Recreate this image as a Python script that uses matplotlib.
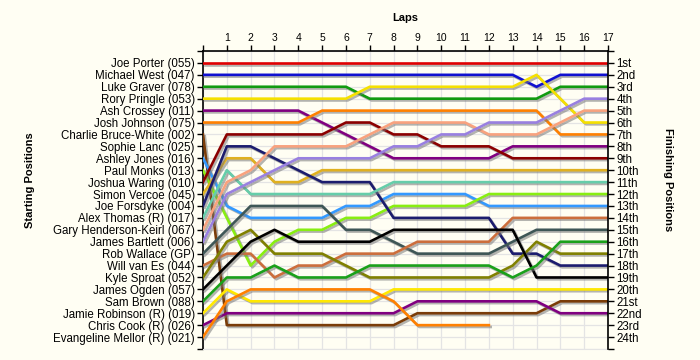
import matplotlib
matplotlib.use("Agg")
import matplotlib.pyplot as plt
import matplotlib.patheffects as pe

plt.rcParams["font.family"] = ["Liberation Sans", "DejaVu Sans"]

# starting grid, in order
drivers = [
    "Joe Porter (055)", "Michael West (047)", "Luke Graver (078)", "Rory Pringle (053)",
    "Ash Crossey (011)", "Josh Johnson (075)", "Charlie Bruce-White (002)", "Sophie Lanc (025)",
    "Ashley Jones (016)", "Paul Monks (013)", "Joshua Waring (010)", "Simon Vercoe (045)",
    "Joe Forsdyke (004)", "Alex Thomas (R) (017)", "Gary Henderson-Keirl (067)", "James Bartlett (006)",
    "Rob Wallace (GP)", "Will van Es (044)", "Kyle Sproat (052)", "James Ogden (057)",
    "Sam Brown (088)", "Jamie Robinson (R) (019)", "Chris Cook (R) (026)", "Evangeline Mellor (R) (021)",
]
finish_labels = ["1st", "2nd", "3rd", "4th", "5th", "6th", "7th", "8th", "9th", "10th", "11th", "12th",
                 "13th", "14th", "15th", "16th", "17th", "18th", "19th", "20th", "21st", "22nd", "23rd", "24th"]
lap_labels = ["", "1", "2", "3", "4", "5", "6", "7", "8", "9", "10", "11", "12", "13", "14", "15", "16", "17"]

# position at each lap (lap 0 = grid)
porter = [1, 1, 1, 1, 1, 1, 1, 1, 1, 1, 1, 1, 1, 1, 1, 1, 1, 1]
west = [2, 2, 2, 2, 2, 2, 2, 2, 2, 2, 2, 2, 2, 2, 3, 2, 2, 2]
graver = [3, 3, 3, 3, 3, 3, 3, 4, 4, 4, 4, 4, 4, 4, 4, 3, 3, 3]
pringle = [4, 4, 4, 4, 4, 4, 4, 3, 3, 3, 3, 3, 3, 3, 2, 4, 6, 6]
crossey = [5, 5, 5, 5, 5, 6, 7, 8, 9, 9, 9, 9, 9, 8, 8, 8, 8, 8]
johnson = [6, 6, 6, 6, 6, 5, 5, 5, 5, 5, 5, 5, 5, 5, 5, 7, 7, 7]
bruce_white = [7, 23, 23, 23, 23, 23, 23, 23, 23, 22, 22, 22, 22, 22, 22, 21, 21, 21]
lanc = [8]
jones = [9, 13, 14, 14, 14, 14, 13, 13, 12, 12, 12, 12, 13, 13, 13, 13, 13, 13]
monks = [10, 14, 18, 16, 15, 15, 14, 14, 13, 13, 13, 13, 12, 12, 12, 12, 12, 12]
waring = [11, 7, 7, 7, 7, 7, 6, 6, 7, 7, 8, 8, 8, 9, 9, 9, 9, 9]
vercoe = [12, 9, 9, 11, 11, 10, 10, 10, 10, 10, 10, 10, 10, 10, 10, 10, 10, 10]
forsdyke = [13, 8, 8, 9, 10, 11, 11, 11, 14, 14, 14, 14, 14, 17, 17, 18, 18, 18]
thomas = [14, 10, 12, 12, 12, 12, 12, 12, 11, 11, 11, 11, 11, 11, 11, 11, 11, 11]
henderson_keirl = [15, 11, 10, 8, 8, 8, 8, 7, 6, 6, 6, 6, 7, 7, 7, 6, 5, 5]
bartlett = [16, 12, 11, 10, 9, 9, 9, 9, 8, 8, 7, 7, 6, 6, 6, 5, 4, 4]
wallace = [17, 15, 13, 13, 13, 13, 15, 15, 16, 17, 17, 17, 17, 16, 15, 15, 15, 15]
van_es = [18, 17, 17, 19, 18, 18, 17, 17, 17, 16, 16, 16, 16, 14, 14, 14, 14, 14]
sproat = [19, 16, 15, 17, 17, 17, 18, 19, 19, 19, 19, 19, 19, 18, 16, 17, 17, 17]
ogden = [20, 18, 16, 15, 16, 16, 16, 16, 15, 15, 15, 15, 15, 15, 19, 19, 19, 19]
brown = [21, 19, 19, 18, 19, 19, 19, 18, 18, 18, 18, 18, 18, 19, 18, 16, 16, 16]
robinson = [22, 20, 21, 21, 21, 21, 21, 21, 20, 20, 20, 20, 20, 20, 20, 20, 20, 20]
cook = [23, 22, 22, 22, 22, 22, 22, 22, 22, 21, 21, 21, 21, 21, 21, 22, 22, 22]
mellor = [24, 21, 20, 20, 20, 20, 20, 20, 21, 23, 23, 23, 23]

colors = ["#e00000", "#1010d0", "#109a10", "#f5e000", "#800080", "#ff8000", "#7a3c08", "#999999",
          "#3399ff", "#88ee11", "#8b0000", "#e0b020", "#1c1c6e", "#66cdaa", "#f8a27e", "#9980e0",
          "#3e5656", "#cc6e3c", "#808000", "#000000", "#1aa01a", "#ffe800", "#800080", "#ff8000"]

series = [porter, west, graver, pringle, crossey, johnson, bruce_white, lanc, jones, monks, waring,
          vercoe, forsdyke, thomas, henderson_keirl, bartlett, wallace, van_es, sproat, ogden, brown,
          robinson, cook, mellor]

bg = "#fffef3"
fig = plt.figure(figsize=(7, 3.6), dpi=100, facecolor=bg)
ax = fig.add_axes([203 / 700, 1 - 349 / 360, 405 / 700, 298 / 360])
ax.set_facecolor(bg)

shadow = [pe.SimpleLineShadow(offset=(1.3, -1.3), shadow_color="#777777", alpha=0.55), pe.Normal()]
for pos, col in zip(series, colors):
    ax.plot(range(len(pos)), pos, color=col, lw=1.9, path_effects=shadow, zorder=3)

ax.set_xlim(0, 17)
ax.set_ylim(25, 0)
ax.xaxis.tick_top()
ax.set_xticks(range(18))
ax.set_xticklabels(lap_labels)
ax.set_yticks(range(26))
ax.set_yticklabels([""] + drivers + [""])
ax.tick_params(axis="x", direction="out", length=4, width=1, labelsize=7.5, pad=2)
ax.tick_params(axis="y", direction="out", length=4, width=1, labelsize=8.3, pad=2)
ax.grid(True, color="#e4e4e4", lw=0.9, zorder=0)
for s in ["left", "top"]:
    ax.spines[s].set_linewidth(1.2)
ax.spines["right"].set_visible(False)
ax.spines["bottom"].set_color("#e4e4e4")

ax2 = ax.twinx()
ax2.set_ylim(25, 0)
ax2.set_yticks(range(26))
ax2.set_yticklabels([""] + finish_labels + [""])
ax2.tick_params(axis="y", direction="out", length=4, width=1, labelsize=8.3, pad=2)
ax2.spines["right"].set_linewidth(1.2)
for s in ["left", "top", "bottom"]:
    ax2.spines[s].set_visible(False)

fig.text(405 / 700, 1 - 18 / 360, "Laps", ha="center", va="center", fontsize=8, fontweight="bold")
fig.text(30 / 700, 0.5, "Starting Positions", rotation=90, ha="center", va="center",
         fontsize=8, fontweight="bold")
fig.text(668 / 700, 0.5, "Finishing Positions", rotation=270, ha="center", va="center",
         fontsize=8, fontweight="bold")

fig.savefig("out.png", dpi=100, facecolor=bg)
